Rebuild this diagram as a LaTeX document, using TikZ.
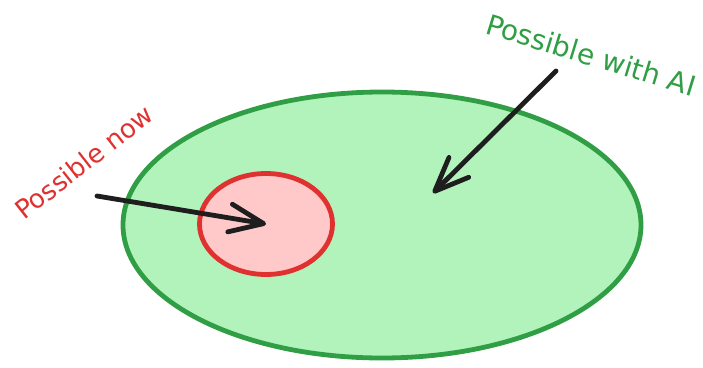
\documentclass[tikz,border=0pt]{standalone}
\usepackage{fontspec}
\setmainfont{DejaVu Sans}
\usetikzlibrary{shapes.geometric,arrows.meta}
\definecolor{aifill}{RGB}{178,242,187}
\definecolor{aistroke}{RGB}{47,158,68}
\definecolor{nowfill}{RGB}{255,201,201}
\definecolor{nowstroke}{RGB}{224,49,49}
\definecolor{inkdark}{RGB}{30,30,30}

\begin{document}
\begin{tikzpicture}[x=1pt,y=-1pt,
  region/.style={ellipse,inner sep=0pt,line width=4.8pt},
  pointer/.style={inkdark,line width=4.8pt,line cap=round,
    -{Straight Barb[length=34pt,width=28pt,round]}}]

  % ── CANVAS ─────────────────────────────────────────────────────────────────
  \useasboundingbox (0,0) rectangle (703,367);

  % ── REGIONS ────────────────────────────────────────────────────────────────
  % big green: what AI makes possible
  \node[region,draw=aistroke,fill=aifill,minimum width=518pt,minimum height=266pt]
    (withai) at (382,225) {};
  % small red inside it: what is possible today
  \node[region,draw=nowstroke,fill=nowfill,minimum width=133pt,minimum height=101pt]
    (now) at (266,224) {};

  % ── LABELS ─────────────────────────────────────────────────────────────────
  \node[text=nowstroke,rotate=38,font=\fontsize{26}{30}\selectfont]
    (nowlabel) at (84,162) {Possible now};
  \node[text=aistroke,rotate=-17,font=\fontsize{28}{32}\selectfont]
    (ailabel) at (591,55) {Possible with AI};

  % ── POINTERS ───────────────────────────────────────────────────────────────
  \coordinate (nowtail) at (97,196);
  \coordinate (aitail) at (556,71);
  \coordinate (aitip) at (433,193);
  \draw[pointer] (nowtail) -- (now.center);
  \draw[pointer] (aitail) -- (aitip);

\end{tikzpicture}
\end{document}
